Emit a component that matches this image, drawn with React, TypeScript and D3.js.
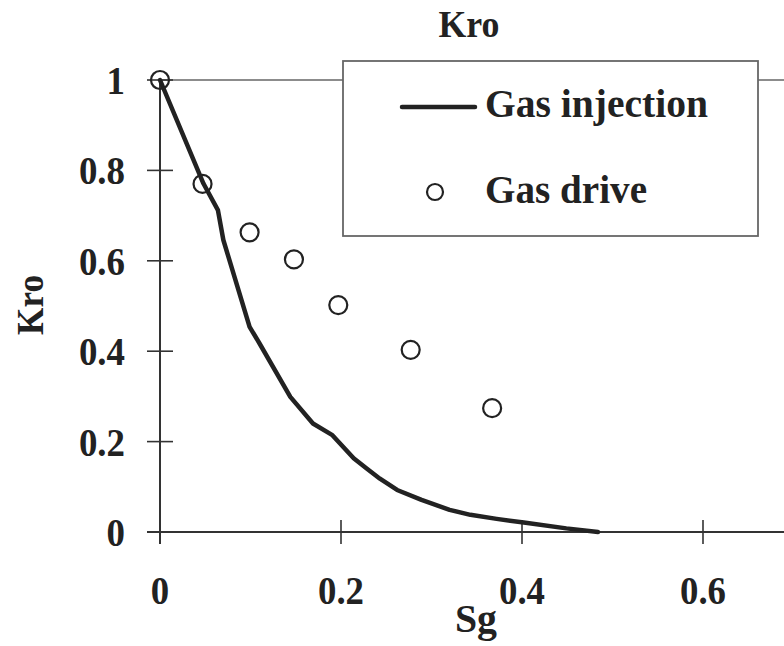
import React from "react";
import * as d3 from "d3";

const injSg = [0, 0.048, 0.064, 0.07, 0.099, 0.11, 0.144, 0.169, 0.19, 0.214, 0.228, 0.243, 0.262, 0.289, 0.32, 0.343, 0.372, 0.402, 0.449, 0.484];
const injKro = [1, 0.771, 0.712, 0.646, 0.454, 0.417, 0.299, 0.24, 0.215, 0.163, 0.141, 0.118, 0.093, 0.071, 0.049, 0.038, 0.029, 0.021, 0.008, 0];
const driveSg = [0, 0.047, 0.099, 0.148, 0.197, 0.277, 0.367];
const driveKro = [1, 0.77, 0.663, 0.603, 0.502, 0.403, 0.274];
const xTicks = [0, 0.2, 0.4, 0.6];
const yTicks = [0, 0.2, 0.4, 0.6, 0.8, 1];
const xTickLabels = ["0", "0.2", "0.4", "0.6"];
const yTickLabels = ["0", "0.2", "0.4", "0.6", "0.8", "1"];
const legendLabels = ["Gas injection", "Gas drive"];

const W = 784, H = 646;
const FONT = "'Liberation Serif', 'Times New Roman', serif";
const INK = "#222";

function Label(props: { x: number; y: number; anchor: string; size: number; sx: number; children: React.ReactNode }) {
  return (
    <text
      transform={`translate(${props.x},${props.y}) scale(${props.sx},1)`}
      textAnchor={props.anchor}
      fontFamily={FONT}
      fontWeight="bold"
      fontSize={props.size}
      fill={INK}
    >
      {props.children}
    </text>
  );
}

export default function App() {
  const x = d3.scaleLinear().domain([0, 0.7]).range([160, 793.5]);
  const y = d3.scaleLinear().domain([0, 1]).range([532, 80]);
  const line = d3.line<number>().x((_, i) => x(injSg[i])).y((d) => y(d)).curve(d3.curveLinear);

  return (
    <svg width={W} height={H} style={{ position: "absolute", left: 0, top: 0, background: "#fff" }}>
      <rect x={0} y={0} width={W} height={H} fill="#fff" />
      {/* title */}
      <text x={469} y={37} textAnchor="middle" fontFamily={FONT} fontWeight="bold" fontSize={38} fill={INK} textLength={61} lengthAdjust="spacingAndGlyphs">Kro</text>
      {/* top border */}
      <line x1={x(0)} x2={x(0.7)} y1={y(1)} y2={y(1)} stroke="#666" strokeWidth={1.6} />
      {/* axes */}
      <line x1={x(0)} x2={x(0)} y1={y(0) + 12} y2={y(1)} stroke="#333" strokeWidth={2} />
      <line x1={x(0) - 13} x2={x(0.7)} y1={y(0)} y2={y(0)} stroke="#333" strokeWidth={2} />
      {yTicks.map((t, i) => (
        <g key={"y" + i}>
          {t > 0 && <line x1={x(0) - 13} x2={x(0) + 13} y1={y(t)} y2={y(t)} stroke="#333" strokeWidth={1.6} />}
          <Label x={125} y={y(t) + 14} anchor="end" size={41} sx={0.9}>{yTickLabels[i]}</Label>
        </g>
      ))}
      {xTicks.map((t, i) => (
        <g key={"x" + i}>
          <line x1={x(t)} x2={x(t)} y1={y(0) - 12} y2={y(0) + 12} stroke="#333" strokeWidth={1.6} />
          <Label x={x(t)} y={604} anchor="middle" size={40} sx={0.92}>{xTickLabels[i]}</Label>
        </g>
      ))}
      {/* axis titles */}
      <text x={476} y={632} textAnchor="middle" fontFamily={FONT} fontWeight="bold" fontSize={39} fill={INK} textLength={42} lengthAdjust="spacingAndGlyphs">Sg</text>
      <text transform={`translate(43,305) rotate(-90)`} textAnchor="middle" fontFamily={FONT} fontWeight="bold" fontSize={38} fill={INK} textLength={60} lengthAdjust="spacingAndGlyphs">Kro</text>
      {/* series */}
      <path d={line(injKro) || ""} fill="none" stroke={INK} strokeWidth={4.5} strokeLinejoin="round" strokeLinecap="round" />
      {driveSg.map((s, i) => (
        <circle key={"c" + i} cx={x(s)} cy={y(driveKro[i])} r={9} fill="none" stroke={INK} strokeWidth={2.2} />
      ))}
      {/* legend */}
      <rect x={343} y={61} width={415} height={175} fill="#fff" stroke="#666" strokeWidth={1.8} />
      <line x1={402} x2={475} y1={107} y2={107} stroke={INK} strokeWidth={4.5} strokeLinecap="round" />
      <text x={485} y={117} fontFamily={FONT} fontWeight="bold" fontSize={40} fill={INK} textLength={223} lengthAdjust="spacingAndGlyphs">{legendLabels[0]}</text>
      <circle cx={435} cy={192} r={8} fill="none" stroke={INK} strokeWidth={2.2} />
      <text x={485} y={203} fontFamily={FONT} fontWeight="bold" fontSize={40} fill={INK} textLength={162} lengthAdjust="spacingAndGlyphs">{legendLabels[1]}</text>
    </svg>
  );
}
